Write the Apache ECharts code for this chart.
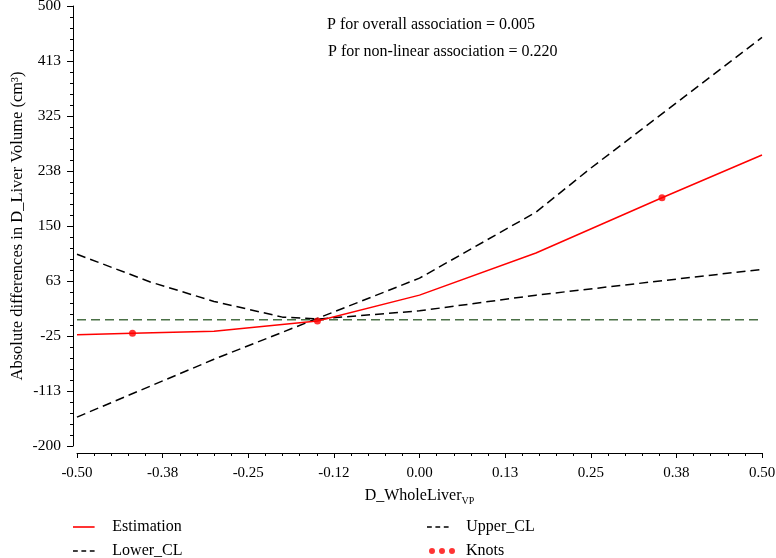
<!DOCTYPE html>
<html>
<head>
<meta charset="utf-8">
<script src="https://cdn.jsdelivr.net/npm/echarts@6/dist/echarts.min.js"></script>
<style>
  html, body { margin: 0; padding: 0; background: #fff; }
  #chart { width: 776px; height: 558px; }
</style>
</head>
<body>
<div id="chart"></div>
<script>
// ---- data ----
const xTickLabels = ['-0.50', '-0.38', '-0.25', '-0.12', '0.00', '0.13', '0.25', '0.38', '0.50'];
const yTickLabels = ['-200', '-113', '-25', '63', '150', '238', '325', '413', '500'];

const estimationX = [-0.5, -0.419, -0.3, -0.149, 0.0, 0.17, 0.354, 0.5];
const estimationY = [-23, -20.5, -17.5, -1, 40, 107, 195, 263];

const upperX = [-0.5, -0.3, -0.149, 0.0, 0.17, 0.25, 0.5];
const upperY = [-154, -62, 3, 67, 172, 242, 450];

const lowerX = [-0.5, -0.393, -0.3, -0.2, -0.149, 0.0, 0.17, 0.5];
const lowerY = [105, 61, 30, 5, 2, 15, 40, 81];

const knotsX = [-0.419, -0.149, 0.354];
const knotsY = [-20.5, -1, 195];

const refValue = 1;
const xRange = [-0.5, 0.5];

const annotations = ['P for overall association = 0.005', 'P for non-linear association = 0.220'];

// ---- build ----
const zip = (xs, ys) => xs.map((x, i) => [x, ys[i]]);
const FONT = 'Liberation Serif';

const ICON_SOLID = 'path://M0,0h27v2h-27z';
const ICON_DASH = 'path://M0,0h6v2h-6zM10.5,0h6v2h-6zM21,0h6v2h-6z';
const ICON_DOTS = 'path://M0,3a3,3 0 1,0 6,0a3,3 0 1,0 -6,0M10,3a3,3 0 1,0 6,0a3,3 0 1,0 -6,0M20,3a3,3 0 1,0 6,0a3,3 0 1,0 -6,0';

const chart = echarts.init(document.getElementById('chart'), null, { renderer: 'canvas' });

const legendBase = {
  padding: 0,
  itemWidth: 27,
  itemHeight: 1.6,
  textStyle: { fontFamily: FONT, fontSize: 16, color: '#000', padding: [0, 0, 0, 10] },
  selectedMode: false
};

const option = {
  animation: false,
  backgroundColor: '#fff',
  grid: { left: 77, right: 14, top: 6, bottom: 112, containLabel: false, outerBoundsMode: 'none' },
  xAxis: {
    type: 'value',
    min: -0.5, max: 0.5, interval: 0.125,
    offset: 7,
    name: '{a|D_WholeLiver}{b|VP}',
    nameLocation: 'middle',
    nameGap: 24,
    nameTextStyle: {
      rich: {
        a: { fontFamily: FONT, fontSize: 16, color: '#000', lineHeight: 20 },
        b: { fontFamily: FONT, fontSize: 10, color: '#000', lineHeight: 10, padding: [10, 0, 0, 0] }
      }
    },
    axisLine: { show: true, onZero: false, lineStyle: { color: '#000', width: 1 } },
    axisTick: { show: true, length: 5, lineStyle: { color: '#000' } },
    minorTick: { show: true, splitNumber: 5, length: 3, lineStyle: { color: '#000' } },
    axisLabel: {
      margin: 13, fontFamily: FONT, fontSize: 15, color: '#000',
      formatter: (v, i) => xTickLabels[i]
    },
    splitLine: { show: false }
  },
  yAxis: [
    {
      // visible tick axis: same span as the data axis (700 units), ticks every 87.5
      type: 'value',
      min: 0, max: 700, interval: 87.5,
      offset: 4,
      name: 'Absolute differences in D_Liver Volume (cm³)',
      nameLocation: 'middle',
      nameGap: 47,
      nameMoveOverlap: false,
      nameTextStyle: { fontFamily: FONT, fontSize: 16.5, color: '#000' },
      axisLine: { show: true, onZero: false, lineStyle: { color: '#000', width: 1 } },
      axisTick: { show: true, length: 6, lineStyle: { color: '#000' } },
      minorTick: { show: true, splitNumber: 5, length: 3, lineStyle: { color: '#000' } },
      axisLabel: {
        margin: 12, fontFamily: FONT, fontSize: 15.5, color: '#000',
        formatter: (v, i) => yTickLabels[i]
      },
      splitLine: { show: false }
    },
    {
      type: 'value',
      min: -200, max: 500,
      show: false,
      axisLine: { onZero: false },
      splitLine: { show: false }
    }
  ],
  legend: [
    Object.assign({}, legendBase, { left: 73, top: 519, data: [{ name: 'Estimation', icon: ICON_SOLID }] }),
    Object.assign({}, legendBase, { left: 73, top: 543, data: [{ name: 'Lower_CL', icon: ICON_DASH }] }),
    Object.assign({}, legendBase, { left: 427, top: 519, data: [{ name: 'Upper_CL', icon: ICON_DASH }] }),
    Object.assign({}, legendBase, { left: 429, top: 543, itemWidth: 26, itemHeight: 6,
      textStyle: { fontFamily: FONT, fontSize: 16, color: '#000', padding: [0, 0, 0, 6] },
      data: [{ name: 'Knots', icon: ICON_DOTS }] })
  ],
  graphic: [
    { type: 'text', left: 327, top: 17, style: { text: annotations[0], font: '16px ' + FONT, fill: '#000' } },
    { type: 'text', left: 328, top: 44, style: { text: annotations[1], font: '16px ' + FONT, fill: '#000' } }
  ],
  series: [
    {
      name: 'Reference', type: 'line', yAxisIndex: 1,
      data: [[xRange[0], refValue], [xRange[1], refValue]],
      symbol: 'none', silent: true,
      lineStyle: { color: '#4a7046', width: 1.5, type: [9, 5] },
      z: 1
    },
    {
      name: 'Lower_CL', type: 'line', yAxisIndex: 1,
      data: zip(lowerX, lowerY),
      symbol: 'none', showSymbol: false,
      itemStyle: { color: '#000' },
      lineStyle: { color: '#000', width: 1.5, type: [9, 5] },
      z: 2
    },
    {
      name: 'Upper_CL', type: 'line', yAxisIndex: 1,
      data: zip(upperX, upperY),
      symbol: 'none', showSymbol: false,
      itemStyle: { color: '#000' },
      lineStyle: { color: '#000', width: 1.5, type: [9, 5] },
      z: 2
    },
    {
      name: 'Estimation', type: 'line', yAxisIndex: 1,
      data: zip(estimationX, estimationY),
      symbol: 'none', showSymbol: false,
      itemStyle: { color: '#ff0000' },
      lineStyle: { color: '#ff0000', width: 1.5 },
      z: 3
    },
    {
      name: 'Knots', type: 'scatter', yAxisIndex: 1,
      data: zip(knotsX, knotsY),
      symbol: 'circle', symbolSize: 7,
      itemStyle: { color: '#ff0000' },
      z: 4
    }
  ]
};

chart.setOption(option);
</script>
</body>
</html>
